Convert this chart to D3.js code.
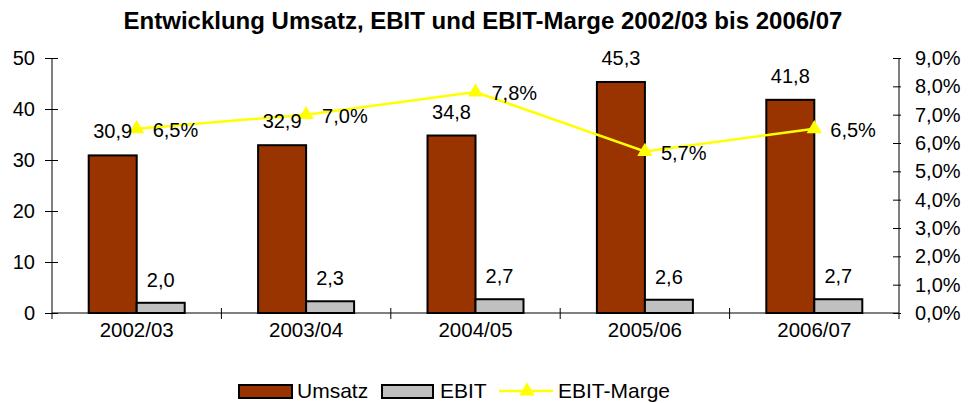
<!DOCTYPE html>
<html>
<head>
<meta charset="utf-8">
<script src="https://cdn.jsdelivr.net/npm/d3@7"></script>
<style>
  body { margin: 0; background: #fff; }
  text { font-family: "Liberation Sans", Arial, sans-serif; }
</style>
</head>
<body>
<svg id="chart"></svg>
<script>
let years = ["2002/03", "2003/04", "2004/05", "2005/06", "2006/07"];
let umsatz = [30.9, 32.9, 34.8, 45.3, 41.8];
let ebit = [2.0, 2.3, 2.7, 2.6, 2.7];
let marge = [6.5, 7.0, 7.8, 5.7, 6.5];
let leftTicks = [0, 10, 20, 30, 40, 50];
let rightTicks = [0, 1, 2, 3, 4, 5, 6, 7, 8, 9];

let w = 975;
let h = 403;
let fs = 20;
let fmt = d => d.toFixed(1).replace(".", ",");

let svg = d3.select("#chart")
    .attr("width", w)
    .attr("height", h);

// title
svg.append("text")
    .attr("x", 483)
    .attr("y", 29)
    .attr("text-anchor", "middle")
    .attr("font-size", 24)
    .attr("font-weight", "bold")
    .text("Entwicklung Umsatz, EBIT und EBIT-Marge 2002/03 bis 2006/07");

// scales
let xScale = d3.scaleBand()
    .domain(years)
    .range([52, 899]);

let yScale = d3.scaleLinear()
    .domain([0, 50])
    .range([313, 58]);

let pScale = d3.scaleLinear()
    .domain([0, 9])
    .range([313, 58]);

let barW = 48;

// bars
let bars = svg.append("g")
    .attr("stroke", "black")
    .attr("stroke-width", 2);

bars.selectAll("rect.umsatz")
    .data(umsatz)
    .join("rect")
    .attr("class", "umsatz")
    .attr("x", (d, i) => xScale(years[i]) + xScale.bandwidth() / 2 - barW)
    .attr("y", d => yScale(d))
    .attr("width", barW)
    .attr("height", d => yScale(0) - yScale(d))
    .attr("fill", "#993300");

bars.selectAll("rect.ebit")
    .data(ebit)
    .join("rect")
    .attr("class", "ebit")
    .attr("x", (d, i) => xScale(years[i]) + xScale.bandwidth() / 2)
    .attr("y", d => yScale(d))
    .attr("width", barW)
    .attr("height", d => yScale(0) - yScale(d))
    .attr("fill", "#C0C0C0");

// axes
let yAxis = d3.axisLeft(yScale)
    .tickValues(leftTicks)
    .tickSize(6)
    .tickPadding(11)
    .tickFormat(d => d);
let yAxisGroup = svg.append("g")
    .attr("transform", "translate(52,0)")
    .call(yAxis);
yAxisGroup.select(".domain").attr("d", "M0,58V319");
yAxisGroup.selectAll(".tick line").attr("x1", -7).attr("x2", 6);

let pAxis = d3.axisRight(pScale)
    .tickValues(rightTicks)
    .tickSize(6)
    .tickPadding(10)
    .tickFormat(d => fmt(d) + "%");
let pAxisGroup = svg.append("g")
    .attr("transform", "translate(899,0)")
    .call(pAxis);
pAxisGroup.select(".domain").attr("d", "M0,58V319");
pAxisGroup.selectAll(".tick line").attr("x1", -6).attr("x2", 2);

let xAxis = d3.axisBottom(xScale)
    .tickSize(0)
    .tickPadding(9);
let xAxisGroup = svg.append("g")
    .attr("transform", "translate(0,313)")
    .call(xAxis);
xAxisGroup.select(".domain").attr("d", "M52,0H899");
// category separator ticks
xAxisGroup.selectAll("line.sep")
    .data(years.slice(1))
    .join("line")
    .attr("class", "sep")
    .attr("x1", d => xScale(d))
    .attr("x2", d => xScale(d))
    .attr("y1", -5)
    .attr("y2", 6)
    .attr("stroke", "black");

svg.selectAll(".tick text")
    .attr("font-size", fs)
    .attr("fill", "black")
    .attr("font-family", "Liberation Sans, Arial, sans-serif");
xAxisGroup.selectAll(".tick text").attr("font-size", 20.5);

// line
let cx = d => xScale(d) + xScale.bandwidth() / 2;
let line = d3.line()
    .x((d, i) => cx(years[i]))
    .y(d => pScale(d));

svg.append("path")
    .datum(marge)
    .attr("d", line)
    .attr("fill", "none")
    .attr("stroke", "#FFFF00")
    .attr("stroke-width", 2.5);

let tri = d3.symbol().type(d3.symbolTriangle).size(100);
svg.selectAll("path.marker")
    .data(marge)
    .join("path")
    .attr("class", "marker")
    .attr("transform", (d, i) => `translate(${cx(years[i])},${pScale(d)})`)
    .attr("d", tri)
    .attr("fill", "#FFFF00");

// labels
svg.selectAll("text.ulab")
    .data(umsatz)
    .join("text")
    .attr("class", "ulab")
    .attr("x", (d, i) => cx(years[i]) - barW / 2)
    .attr("y", d => yScale(d) - 17)
    .attr("text-anchor", "middle")
    .attr("font-size", fs)
    .text(d => fmt(d));

svg.selectAll("text.elab")
    .data(ebit)
    .join("text")
    .attr("class", "elab")
    .attr("x", (d, i) => cx(years[i]) + barW / 2)
    .attr("y", d => yScale(d) - 16)
    .attr("text-anchor", "middle")
    .attr("font-size", fs)
    .text(d => fmt(d));

svg.selectAll("text.plab")
    .data(marge)
    .join("text")
    .attr("class", "plab")
    .attr("x", (d, i) => cx(years[i]) + 16)
    .attr("y", d => pScale(d) + 8)
    .attr("font-size", fs)
    .text(d => fmt(d) + "%");

// legend
let legend = svg.append("g").attr("font-size", 21);
legend.append("rect")
    .attr("x", 239).attr("y", 385).attr("width", 53).attr("height", 13)
    .attr("fill", "#993300").attr("stroke", "black").attr("stroke-width", 2);
legend.append("text").attr("x", 297).attr("y", 398).text("Umsatz");
legend.append("rect")
    .attr("x", 382).attr("y", 385).attr("width", 51).attr("height", 13)
    .attr("fill", "#C0C0C0").attr("stroke", "black").attr("stroke-width", 2);
legend.append("text").attr("x", 440).attr("y", 398).text("EBIT");
legend.append("line")
    .attr("x1", 499).attr("x2", 553).attr("y1", 391).attr("y2", 391)
    .attr("stroke", "#FFFF00").attr("stroke-width", 2.5);
legend.append("path")
    .attr("transform", "translate(527,391)")
    .attr("d", tri)
    .attr("fill", "#FFFF00");
legend.append("text").attr("x", 558).attr("y", 398).text("EBIT-Marge");
</script>
</body>
</html>
